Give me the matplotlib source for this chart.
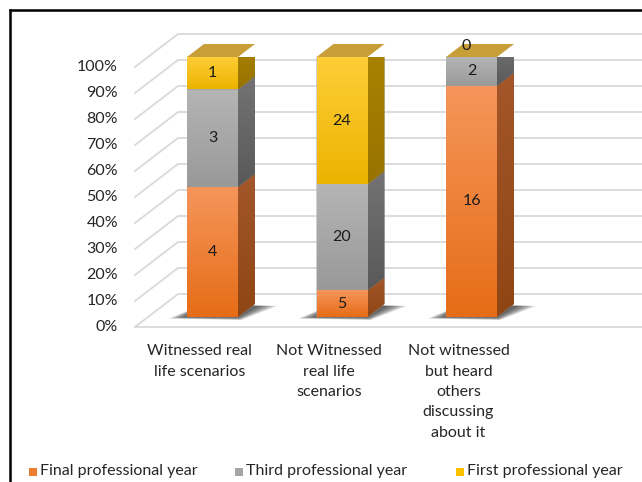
import numpy as np
import matplotlib
matplotlib.use("Agg")
import matplotlib.pyplot as plt
from matplotlib.patches import Polygon
from matplotlib.lines import Line2D
from matplotlib.colors import LinearSegmentedColormap

plt.rcParams["font.family"] = ["Lato", "DejaVu Sans"]

# responses per group, stacked bottom to top
categories = [
    "Witnessed real\nlife scenarios",
    "Not Witnessed\nreal life\nscenarios",
    "Not witnessed\nbut heard\nothers\ndiscussing\nabout it",
]
series_names = ["Final professional year", "Third professional year", "First professional year"]
final_year = [4, 5, 16]
third_year = [3, 20, 2]
first_year = [1, 24, 0]
y_ticks = [0, 10, 20, 30, 40, 50, 60, 70, 80, 90, 100]

# face colours: (front top, front bottom, side top, side bottom)
FACE = {
    "orange": ("#F5955A", "#E66D17", "#A3572A", "#8F4514"),
    "gray": ("#B5B5B5", "#999999", "#737373", "#595959"),
    "yellow": ("#FFCE38", "#ECB400", "#AA8300", "#987300"),
}
TOP_FACE = "#C89E38"
GRID = "#D9D9D9"
TEXT = "#262626"
FS = 11.5
W, H, DPI = 642, 482, 100

fig = plt.figure(figsize=(W / DPI, H / DPI), dpi=DPI)
fig.patch.set_facecolor("white")

# axes spans the bar front plane: 0% at 317px, 100% at 57px from the top
px_left, px_right, px_top, px_bottom = 135, 642, 57, 317
ax = fig.add_axes([px_left / W, (H - px_bottom) / H, (px_right - px_left) / W,
                   (px_bottom - px_top) / H])
step_px = 129.5
first_px = 212.5
ax.set_xlim((px_left - first_px) / step_px, (px_right - first_px) / step_px)
ax.set_ylim(0, 100)
ax.axis("off")

px_x = 1 / step_px
px_y = 100 / (px_bottom - px_top)
bar_w = 51 * px_x
dx, dy = 17 * px_x, 13 * px_y
front_dx, front_dy = -13 * px_x, -10 * px_y
back_dx, back_dy = 30 * px_x, 23 * px_y
wall_x = ax.get_xlim()[0] + 13 * px_x
x_end = ax.get_xlim()[1]

# perspective gridlines: front edge -> back wall -> across
for v in y_ticks:
    fx, fy = wall_x + front_dx, v + front_dy
    bx, by = wall_x + back_dx, v + back_dy
    ax.add_line(Line2D([fx, bx, x_end], [fy, by, by], color=GRID, lw=1.3,
                       clip_on=False, zorder=1))
    ax.text(fx - 17 * px_x, fy, f"{v}%", ha="right", va="center", fontsize=FS,
            color=TEXT, clip_on=False)
ax.add_line(Line2D([wall_x + front_dx, x_end], [front_dy, front_dy], color=GRID,
                   lw=1.3, clip_on=False, zorder=1))


def gradient_fill(poly, c_top, c_bot, zorder):
    cmap = LinearSegmentedColormap.from_list("g", [c_bot, c_top])
    xy = poly.get_xy()
    img = ax.imshow(np.linspace(0, 1, 64).reshape(-1, 1), cmap=cmap, aspect="auto",
                    origin="lower",
                    extent=(xy[:, 0].min(), xy[:, 0].max(), xy[:, 1].min(), xy[:, 1].max()),
                    zorder=zorder, interpolation="bilinear")
    ax.add_patch(poly)
    poly.set_visible(False)
    img.set_clip_path(poly)


def floor_shadow(xl, xr):
    # stacked translucent wedges: dark at the bar foot, fading outwards
    for k in range(6):
        s = 1 - k * 0.16
        pts = [(xl - 18 * s * px_x, -1.5 * s * px_y),
               (xr + 3 * s * px_x, -3 * s * px_y),
               (xr + dx + 22 * s * px_x, dy - 2 * px_y),
               (xl + dx, dy)]
        ax.add_patch(Polygon(pts, closed=True, fc="#1a1a1a", ec="none", alpha=0.16,
                             zorder=2, clip_on=False))


stacks = np.array([final_year, third_year, first_year], dtype=float)
shares = stacks / stacks.sum(axis=0) * 100
colour_keys = ["orange", "gray", "yellow"]

for i in range(len(categories)):
    xl, xr = i - bar_w / 2, i + bar_w / 2
    floor_shadow(xl, xr)

    # solid underlay so clipped segment edges leave no seams
    ax.add_patch(Polygon([(xl, 0), (xr, 0), (xr + dx, dy), (xr + dx, 100 + dy),
                          (xr, 100), (xl, 100)], closed=True, fc="#A5A5A5", ec="none",
                         zorder=2.5))

    bottom = 0.0
    for s in range(3):
        top = bottom + shares[s, i]
        ft, fb, st, sb = FACE[colour_keys[s]]
        if top > bottom:
            front = Polygon([(xl, bottom), (xr, bottom), (xr, top), (xl, top)], closed=True)
            gradient_fill(front, ft, fb, 3)
            side = Polygon([(xr, bottom), (xr + dx, bottom + dy), (xr + dx, top + dy),
                            (xr, top)], closed=True)
            gradient_fill(side, st, sb, 3)
        label_y = (bottom + top) / 2 if top > bottom else top + dy * 0.85
        label_x = i if top > bottom else i - 0.04
        ax.text(label_x, label_y, f"{int(stacks[s, i])}", ha="center", va="center",
                fontsize=FS, color="#1a1a1a", zorder=5, clip_on=False)
        bottom = top

    ax.add_patch(Polygon([(xl, 100), (xr, 100), (xr + dx, 100 + dy), (xl + dx, 100 + dy)],
                         closed=True, fc=TOP_FACE, ec="none", zorder=3, clip_on=False))

    ax.text(i + front_dx, -10.5, categories[i], ha="center", va="top", fontsize=FS,
            color=TEXT, linespacing=1.58, clip_on=False)

# legend row along the bottom
legend_x = [29, 235, 456]
legend_colors = ["#ED7D31", "#A5A5A5", "#FFC000"]
for lx, name, col in zip(legend_x, series_names, legend_colors):
    fig.patches.append(plt.Rectangle((lx / W, (H - 476) / H), 8 / W, 8 / H, fc=col,
                                     ec="none", transform=fig.transFigure, figure=fig))
    fig.text((lx + 11) / W, (H - 471) / H, name, ha="left", va="center", fontsize=FS,
             color=TEXT)

# chart frame (left and top edges)
fig.add_artist(Line2D([10 / W, 10 / W], [0, (H - 10) / H], color="black", lw=1.8,
                      transform=fig.transFigure))
fig.add_artist(Line2D([10 / W, 1], [(H - 10) / H, (H - 10) / H], color="black", lw=1.8,
                      transform=fig.transFigure))

fig.savefig("out.png", dpi=DPI, facecolor="white")
